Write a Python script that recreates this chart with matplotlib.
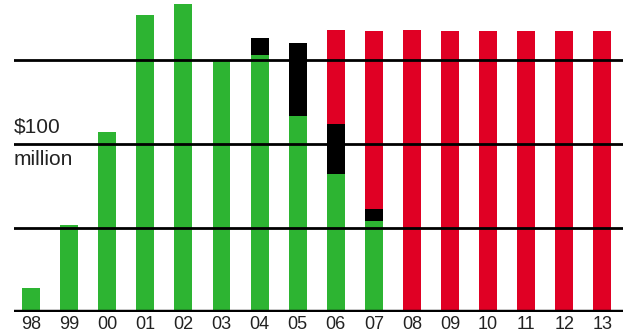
import matplotlib.pyplot as plt
import numpy as np

plt.rcParams['font.family'] = ['Liberation Sans', 'DejaVu Sans']

years = ['98', '99', '00', '01', '02', '03', '04', '05', '06', '07',
         '08', '09', '10', '11', '12', '13']
# stacked segments, in $ million
green = [14.4, 51.8, 107, 176.5, 183, 149.8, 152.8, 116.6, 82, 54.2,
         0, 0, 0, 0, 0, 0]
black = [0, 0, 0, 0, 0, 0, 10.2, 43.4, 29.8, 7.1,
         0, 0, 0, 0, 0, 0]
red = [0, 0, 0, 0, 0, 0, 0, 0, 55.8, 105.7,
       167.6, 167, 167, 167, 167, 167]
gridlines = [50, 100, 150]

GREEN = '#2db432'
RED = '#e00024'

fig = plt.figure(figsize=(6.23, 3.35), dpi=100)
ax = fig.add_axes([14/623, 22.7/335, 609/623, 311.5/335])

x = np.arange(len(years))
g = np.array(green)
b = np.array(black)
r = np.array(red)
w = 0.47
ax.bar(x, g, width=w, color=GREEN, zorder=1)
ax.bar(x, b, width=w, bottom=g, color='black', zorder=1)
ax.bar(x, r, width=w, bottom=g + b, color=RED, zorder=1)

for y in gridlines:
    ax.axhline(y, color='black', lw=2.0, zorder=2)
ax.axhline(0, color='black', lw=3.2, zorder=2)

ax.set_xlim(-0.446, 15.54)
ax.set_ylim(0, 185)
ax.set_xticks(x)
ax.set_xticklabels(years, fontsize=13, color='#222222')
ax.tick_params(axis='x', length=0, pad=3)
ax.set_yticks([])
for s in ax.spines.values():
    s.set_visible(False)

ax.text(0, 110, '$100', transform=ax.get_yaxis_transform(), fontsize=15,
        ha='left', va='center', color='#222222')
ax.text(0, 90.5, 'million', transform=ax.get_yaxis_transform(), fontsize=15,
        ha='left', va='center', color='#222222')

fig.savefig('out.png', dpi=100)
